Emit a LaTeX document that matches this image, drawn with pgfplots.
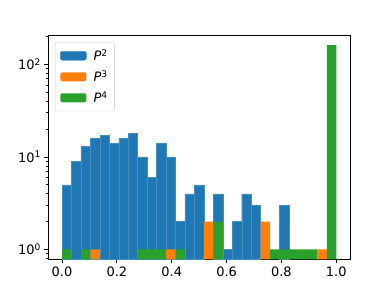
\documentclass[border=0pt]{standalone}
\usepackage{fontspec}
\setmainfont{DejaVu Sans}
\usepackage{pgfplots}
\pgfplotsset{compat=1.18}
\definecolor{c1}{HTML}{1F77B4}
\definecolor{c2}{HTML}{FF7F0E}
\definecolor{c3}{HTML}{2CA02C}
\newcommand{\fs}{\fontsize{13}{15.6}\selectfont}
\begin{document}
\begin{tikzpicture}[font=\fs]
\path[use as bounding box] (-48.3bp,-32.7bp) rectangle (340.7bp,259.3bp);
\begin{axis}[
  at={(0,0)}, anchor=south west,
  scale only axis, width=301.7bp, height=224.3bp,
  ymode=log, log origin=infty,
  xmin=-0.05, xmax=1.05, ymin=0.783, ymax=208,
  xtick={0,0.2,0.4,0.6,0.8,1.0},
  xticklabel style={font=\fs, /pgf/number format/.cd, fixed, fixed zerofill, precision=1, assume math mode=true},
  yticklabel style={font=\fs},
  ytick={1,10,100},
  yticklabels={10\textsuperscript{0},10\textsuperscript{1},10\textsuperscript{2}},
  minor ytick={0.8,0.9,2,3,4,5,6,7,8,9,20,30,40,50,60,70,80,90,200},
  tick pos=left, tick align=outside,
  major tick length=4bp, minor tick length=2.3bp,
  every tick/.style={black, line width=0.8bp},
  axis line style={line width=0.8bp},
  bar shift=0pt, bar width=0.0344828,
  legend style={at={(0.022,0.9675)}, anchor=north west, draw=black!20, rounded corners=2bp,
    inner xsep=5bp, inner ysep=5bp, row sep=4.5bp, font=\fs},
  legend cell align=left,
  legend image code/.code={\fill[#1] (0bp,-4.5bp) rectangle (26bp,4.5bp);},
]
\addplot[ybar, fill=c1, draw=c1!82!white, line width=0.4bp] coordinates {
(0.01724,5) (0.05172,9) (0.08621,13) (0.12069,16) (0.15517,17) (0.18966,14)
(0.22414,16) (0.25862,18) (0.29310,10) (0.32759,6) (0.36207,14) (0.39655,10)
(0.43103,2) (0.46552,4) (0.50000,5) (0.56897,4) (0.60345,1)
(0.63793,2) (0.67241,4) (0.70690,3) (0.81034,3)
};
\addlegendentry{\hspace{5bp}\textit{P}\textsuperscript{2}}
\addplot[ybar, fill=c2, draw=none] coordinates {
(0.12069,1) (0.39655,1) (0.53448,2) (0.74138,2) (0.94828,1)
};
\addlegendentry{\hspace{5bp}\textit{P}\textsuperscript{3}}
\addplot[ybar, fill=c3, draw=none] coordinates {
(0.01724,1) (0.08621,1) (0.29310,1) (0.32759,1) (0.36207,1) (0.43103,1)
(0.56897,2) (0.77586,1) (0.81034,1) (0.84483,1) (0.87931,1) (0.91379,1)
(0.98276,162)
};
\addlegendentry{\hspace{5bp}\textit{P}\textsuperscript{4}}
\end{axis}
\end{tikzpicture}
\end{document}
